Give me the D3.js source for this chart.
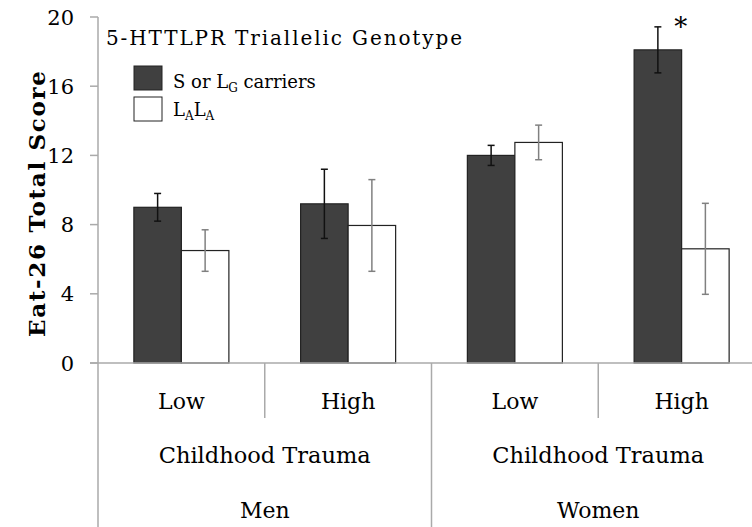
<!DOCTYPE html>
<meta charset="utf-8">
<style>
body { margin: 0; background: #fff; }
text { font-family: "DejaVu Serif", "Liberation Serif", serif; fill: #000; }
.grid { stroke: #aaa; stroke-width: 1.5px; }
</style>
<body>
<script src="https://cdn.jsdelivr.net/npm/d3@7"></script>
<script>

// data
var sexes = ["Men", "Women"],
    trauma = ["Low", "High"],
    series = ["carrier", "lala"],
    carrierMeans = [9.0, 9.2, 12.0, 18.1],
    carrierErr = [0.8, 2.0, 0.58, 1.33],
    lalaMeans = [6.5, 7.95, 12.75, 6.6],
    lalaErr = [1.2, 2.65, 1.0, 2.63],
    yTicks = [0, 4, 8, 12, 16, 20];

var width = 752, height = 527;

var cells = [];
sexes.forEach(function(s) {
  trauma.forEach(function(t) { cells.push(s + " " + t); });
});

var rows = [];
cells.forEach(function(c, i) {
  rows.push({cell: c, key: "carrier", v: carrierMeans[i], e: carrierErr[i]});
  rows.push({cell: c, key: "lala", v: lalaMeans[i], e: lalaErr[i]});
});

var svg = d3.select("body").append("svg")
    .attr("width", width)
    .attr("height", height);

var y = d3.scaleLinear().domain([0, 20]).range([363, 17]);
var x = d3.scaleBand().domain(cells).range([98, 765]);
var xs = d3.scaleBand().domain(series).range([0, x.bandwidth()]).paddingOuter(0.755);

var fill = {carrier: "#404040", lala: "#fff"},
    errColor = {carrier: "#111", lala: "#808080"};

// y axis line (runs all the way down past the category rows)
svg.append("line").attr("class", "grid")
    .attr("x1", 98).attr("x2", 98).attr("y1", y(20)).attr("y2", height);

svg.selectAll(".ytick").data(yTicks).enter().append("line")
    .attr("class", "grid")
    .attr("x1", 90).attr("x2", 98)
    .attr("y1", function(d) { return y(d); })
    .attr("y2", function(d) { return y(d); });

svg.selectAll(".ylab").data(yTicks).enter().append("text")
    .attr("x", 74)
    .attr("y", function(d) { return y(d); })
    .attr("dy", "0.36em")
    .attr("text-anchor", "end")
    .style("font-size", "21px")
    .text(function(d) { return d; });

svg.append("text")
    .attr("transform", "translate(45,204)rotate(-90)")
    .attr("text-anchor", "middle")
    .attr("textLength", 266)
    .attr("lengthAdjust", "spacing")
    .style("font-size", "23px")
    .style("font-weight", "bold")
    .text("Eat-26 Total Score");

// bars
var bars = svg.selectAll(".bar").data(rows).enter().append("g")
    .attr("transform", function(d) { return "translate(" + (x(d.cell) + xs(d.key)) + ",0)"; });

bars.append("rect")
    .attr("y", function(d) { return y(d.v); })
    .attr("width", xs.bandwidth())
    .attr("height", function(d) { return y(0) - y(d.v); })
    .attr("fill", function(d) { return fill[d.key]; })
    .attr("stroke", "#222")
    .attr("stroke-width", 1.2);

var cx = xs.bandwidth() / 2;
bars.append("line")
    .attr("x1", cx).attr("x2", cx)
    .attr("y1", function(d) { return y(d.v + d.e); })
    .attr("y2", function(d) { return y(d.v - d.e); })
    .attr("stroke", function(d) { return errColor[d.key]; })
    .attr("stroke-width", 1.5);

[1, -1].forEach(function(sign) {
  bars.append("line")
      .attr("x1", cx - 3.5).attr("x2", cx + 3.5)
      .attr("y1", function(d) { return y(d.v + sign * d.e); })
      .attr("y2", function(d) { return y(d.v + sign * d.e); })
      .attr("stroke", function(d) { return errColor[d.key]; })
      .attr("stroke-width", 1.5);
});

// significance mark on women / high / carriers
svg.append("text")
    .attr("x", x("Women High") + xs("carrier") + xs.bandwidth() - 1)
    .attr("y", 36)
    .attr("text-anchor", "middle")
    .style("font-size", "26px")
    .text("*");

// baseline and category separators
svg.append("line").attr("class", "grid")
    .attr("x1", 90).attr("x2", width).attr("y1", y(0)).attr("y2", y(0));

sexes.forEach(function(s) {
  svg.append("line").attr("class", "grid")
      .attr("x1", x(s + " High")).attr("x2", x(s + " High"))
      .attr("y1", y(0)).attr("y2", 418);
});
svg.append("line").attr("class", "grid")
    .attr("x1", x("Women Low")).attr("x2", x("Women Low"))
    .attr("y1", y(0)).attr("y2", height);

svg.selectAll(".tlab").data(cells).enter().append("text")
    .attr("x", function(d) { return x(d) + x.bandwidth() / 2; })
    .attr("y", 409)
    .attr("text-anchor", "middle")
    .style("font-size", "22px")
    .text(function(d) { return d.split(" ")[1]; });

sexes.forEach(function(s) {
  var mid = x(s + " High");
  svg.append("text")
      .attr("x", mid).attr("y", 463)
      .attr("text-anchor", "middle")
      .style("font-size", "22.5px")
      .text("Childhood Trauma");
  svg.append("text")
      .attr("x", mid).attr("y", 518)
      .attr("text-anchor", "middle")
      .style("font-size", "22px")
      .text(s);
});

// legend
svg.append("text")
    .attr("x", 106).attr("y", 45)
    .attr("textLength", 356)
    .attr("lengthAdjust", "spacing")
    .style("font-size", "20px")
    .text("5-HTTLPR Triallelic Genotype");

var legend = svg.append("g");
legend.append("rect")
    .attr("x", 134).attr("y", 66).attr("width", 28).attr("height", 24)
    .attr("fill", fill.carrier).attr("stroke", "#222");
legend.append("rect")
    .attr("x", 134).attr("y", 97).attr("width", 28).attr("height", 24)
    .attr("fill", fill.lala).attr("stroke", "#222");

var t1 = legend.append("text").attr("x", 173).attr("y", 88).style("font-size", "18px");
t1.append("tspan").text("S or L");
t1.append("tspan").attr("dy", 4).style("font-size", "12px").text("G");
t1.append("tspan").attr("dy", -4).text(" carriers");

var t2 = legend.append("text").attr("x", 173).attr("y", 116).style("font-size", "18px");
t2.append("tspan").text("L");
t2.append("tspan").attr("dy", 4).style("font-size", "12px").text("A");
t2.append("tspan").attr("dy", -4).text("L");
t2.append("tspan").attr("dy", 4).style("font-size", "12px").text("A");

</script>
